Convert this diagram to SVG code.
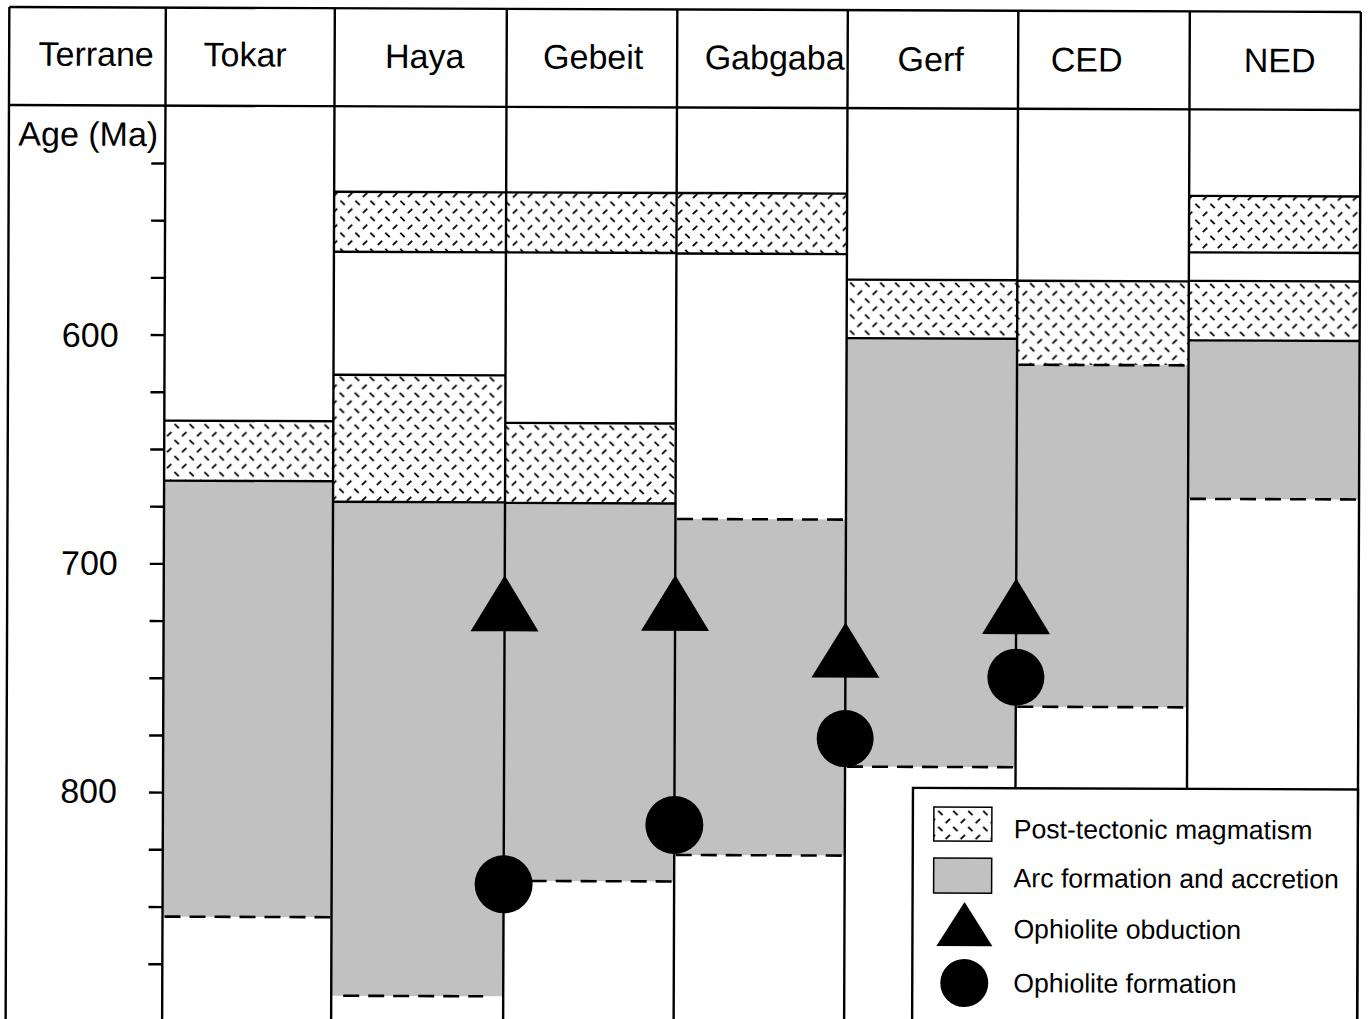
<svg xmlns="http://www.w3.org/2000/svg" width="1369" height="1019" viewBox="0 0 1369 1019">
<style>
.ln{stroke:#000;stroke-width:2.4;fill:none}
.dash{stroke:#000;stroke-width:2.6;stroke-dasharray:16 9;fill:none}
.hatch{fill:url(#hatch)}
.arc{fill:#c1c1c1}
.t{font-family:"Liberation Sans",Arial,Helvetica,sans-serif;font-size:34px;fill:#000}
.lg{font-family:"Liberation Sans",Arial,Helvetica,sans-serif;font-size:26.6px;fill:#000}
.sym{fill:#000}
</style>
<defs>
<pattern id="hatch" width="15" height="16" patternUnits="userSpaceOnUse">
<rect width="15" height="16" fill="#fff"/>
<path d="M1.8 6.2L6.2 1.8M9.3 9.8L13.7 14.2" stroke="#000" stroke-width="1.8"/>
</pattern>
</defs>
<rect width="1369" height="1019" fill="#fff"/>
<g transform="rotate(0.21 684 509)">
<g id="col-tokar">
<rect class="hatch" x="164" y="422.5" width="169" height="60"/>
<rect class="arc" x="164" y="482.5" width="169" height="436"/>
<path class="ln" d="M164 422.5H333M164 482.5H333"/>
<path class="dash" d="M166 918.5H333"/>
</g>
<g id="col-haya">
<rect class="hatch" x="333" y="193" width="172" height="60"/>
<rect class="hatch" x="333" y="376" width="172" height="127"/>
<rect class="arc" x="333" y="503" width="172" height="494"/>
<path class="ln" d="M333 193H505M333 253H505M333 376H505M333 503H505"/>
<path class="dash" d="M345 997H485"/>
</g>
<g id="col-gebeit">
<rect class="hatch" x="505" y="193" width="170.5" height="60"/>
<rect class="hatch" x="505" y="423.5" width="170.5" height="80"/>
<rect class="arc" x="505" y="503.5" width="170.5" height="378"/>
<path class="ln" d="M505 193H675.5M505 253H675.5M505 423.5H675.5M505 503.5H675.5"/>
<path class="dash" d="M507 881.5H675.5"/>
</g>
<g id="col-gabgaba">
<rect class="hatch" x="675.5" y="193" width="170.5" height="60.5"/>
<rect class="arc" x="675.5" y="519" width="170.5" height="336"/>
<path class="ln" d="M675.5 193H846M675.5 253.5H846"/>
<path class="dash" d="M677 519H846M677 855H846"/>
</g>
<g id="col-gerf">
<rect class="hatch" x="846" y="279" width="170.5" height="58.5"/>
<rect class="arc" x="846" y="337.5" width="170.5" height="428.5"/>
<path class="ln" d="M846 279H1016.5M846 337.5H1016.5"/>
<path class="dash" d="M848 766H1016.5"/>
</g>
<g id="col-ced">
<rect class="hatch" x="1016.5" y="279.5" width="171.5" height="84"/>
<rect class="arc" x="1016.5" y="363.5" width="171.5" height="342"/>
<path class="ln" d="M1016.5 279.5H1188"/>
<path class="dash" d="M1018 363.5H1188M1018 705.5H1188"/>
</g>
<g id="col-ned">
<rect class="hatch" x="1188" y="194" width="171" height="56.5"/>
<rect class="hatch" x="1188" y="279" width="171" height="59.5"/>
<rect class="arc" x="1188" y="338.5" width="171" height="158.5"/>
<path class="ln" d="M1188 194H1359M1188 250.5H1359M1188 279H1359M1188 338.5H1359"/>
<path class="dash" d="M1190 497H1359"/>
</g>
<g id="connectors">
<path class="ln" d="M7.5 9.5V1030M164 9.5V1030M333 9.5V1030M505 9.5V1030M675.5 9.5V1030M846 9.5V1030M1016.5 9.5V1030M1188 9.5V1030M1359 9.5V1030"/>
<path class="ln" d="M7.5 9.5H1359M7.5 107.5H1359"/>
</g>
<g id="axis">
<path class="ln" d="M150 165.4H164M150 222.6H164M150 279.8H164M150 337H164M150 394.2H164M150 451.4H164M150 508.6H164M150 565.8H164M150 623H164M150 680.2H164M150 737.4H164M150 794.5H164M150 851.7H164M150 909H164M150 966.2H164"/>
<text class="t" x="118" y="349" text-anchor="end">600</text>
<text class="t" x="118" y="577" text-anchor="end">700</text>
<text class="t" x="118" y="805" text-anchor="end">800</text>
<text class="t" x="17" y="148">Age (Ma)</text>
</g>
<g id="header">
<text class="t" x="94.5" y="68" text-anchor="middle">Terrane</text>
<text class="t" x="243.5" y="68" text-anchor="middle">Tokar</text>
<text class="t" x="423" y="69" text-anchor="middle">Haya</text>
<text class="t" x="591.5" y="69" text-anchor="middle">Gebeit</text>
<text class="t" x="773" y="69" text-anchor="middle">Gabgaba</text>
<text class="t" x="929" y="70" text-anchor="middle">Gerf</text>
<text class="t" x="1085" y="70" text-anchor="middle">CED</text>
<text class="t" x="1278" y="70" text-anchor="middle">NED</text>
</g>
<g id="symbols">
<path class="sym" d="M505 576L539 632H471Z"/>
<path class="sym" d="M675.5 575L709.5 631H641.5Z"/>
<path class="sym" d="M846 622L880 677H812Z"/>
<path class="sym" d="M1016.5 577L1050.5 633H982.5Z"/>
<circle class="sym" cx="505" cy="885" r="29"/>
<circle class="sym" cx="675.5" cy="825" r="29"/>
<circle class="sym" cx="846" cy="738" r="28.5"/>
<circle class="sym" cx="1016.5" cy="676" r="28.5"/>
</g>
<g id="legend">
<rect x="914" y="787" width="445" height="250" fill="#fff" stroke="#000" stroke-width="2.4"/>
<rect class="hatch" x="935" y="806" width="58" height="34" stroke="#000" stroke-width="1.5"/>
<text class="lg" x="1015" y="837">Post-tectonic magmatism</text>
<rect class="arc" x="935" y="857" width="58" height="35" stroke="#000" stroke-width="1.5"/>
<text class="lg" x="1015" y="886">Arc formation and accretion</text>
<path class="sym" d="M966 901L994 945H938Z"/>
<text class="lg" x="1015" y="937">Ophiolite obduction</text>
<circle class="sym" cx="966" cy="982" r="24"/>
<text class="lg" x="1015" y="991">Ophiolite formation</text>
</g>
</g>
</svg>
